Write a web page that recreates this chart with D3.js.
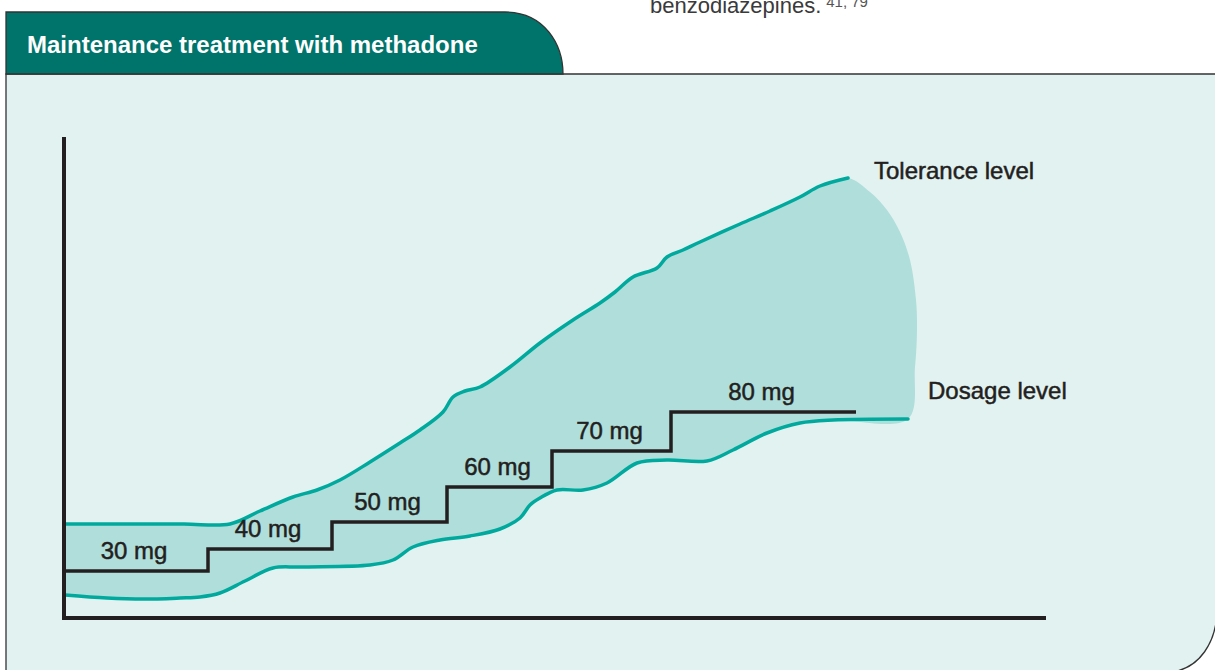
<!DOCTYPE html>
<html>
<head>
<meta charset="utf-8">
<script src="https://cdn.jsdelivr.net/npm/d3@7"></script>
<style>
  html, body { margin: 0; padding: 0; background: #fff; }
  svg { display: block; font-family: "Liberation Sans", Arial, Helvetica, sans-serif; }
</style>
</head>
<body>
<div id="draw"></div>
<script>
// values are in arbitrary chart units (time along x, level up y)
var toleranceX = [2, 60, 120, 166, 196, 229, 253, 276, 306, 336, 356, 379, 389, 401, 416, 446, 476, 509, 536, 551, 569, 593, 603, 619, 636, 676, 706, 736, 756, 784];
var toleranceY = [95, 95, 95, 95, 108, 122, 129, 139, 157, 176, 189, 207, 222, 228, 232, 252, 276, 299, 316, 327, 342, 351, 362, 369, 377, 395, 408, 422, 433, 441];

var dosageX = [1, 43, 80, 116, 136, 156, 181, 209, 236, 306, 329, 349, 376, 406, 436, 456, 466, 476, 493, 519, 543, 573, 603, 643, 669, 703, 736, 769, 844];
var dosageY = [24, 21, 20, 21, 22, 26, 38, 51, 52, 54, 59, 72, 79, 83, 90, 101, 114, 121, 129, 129, 136, 156, 159, 158, 169, 186, 196, 199, 200];

// right hand closing edge of the shaded band (tolerance end -> dosage end)
var closeX = [806, 823, 836, 846, 852, 853, 851];
var closeY = [427, 409, 387, 359, 319, 289, 252];

// prescribed dose steps
var doseMg = [30, 40, 50, 60, 70, 80];
var stepStart = [0, 144, 268, 383, 488, 607];
var stepEnd = 792;
var stepLevel = [48, 70, 97, 132, 168, 207];

var width = 1215, height = 670;
var teal = '#00a99d', band = '#b0dedb', ink = '#231f20';

var svg = d3.select('#draw').append('svg')
    .attr('width', width).attr('height', height);

var x = d3.scaleLinear().domain([0, 982]).range([64, 1046]);
var y = d3.scaleLinear().domain([0, 482]).range([619, 137]);

// running text above the box (cut by the page edge as in the source)
var bodyText = svg.append('text').attr('x', 650).attr('y', 12.5)
    .attr('fill', '#3a3a3a').style('font-size', '22px');
bodyText.append('tspan').text('benzodiazepines.');
bodyText.append('tspan').attr('dx', 5).attr('dy', -6).style('font-size', '15px').attr('fill', '#555').text('41, 79');

// panel
svg.append('path')
    .attr('d', 'M6,74 H1217 V612 C1216,642 1200,668 1172,672 H6 Z')
    .attr('fill', '#e2f2f1').attr('stroke', '#333').attr('stroke-width', 1.3);

// tab header
svg.append('path')
    .attr('d', 'M6,74 V12 H505 C545,12 563,45 563,74 Z')
    .attr('fill', '#00736a').attr('stroke', '#333').attr('stroke-width', 1.3);
svg.append('text').attr('x', 27).attr('y', 52.5)
    .attr('fill', '#fff').style('font-size', '24px').style('font-weight', 'bold')
    .text('Maintenance treatment with methadone');

var tol = toleranceX.map(function(d, i){ return [d, toleranceY[i]]; });
var dos = dosageX.map(function(d, i){ return [d, dosageY[i]]; });
var edge = closeX.map(function(d, i){ return [d, closeY[i]]; });

var line = d3.line()
    .x(function(d){ return x(d[0]); })
    .y(function(d){ return y(d[1]); })
    .curve(d3.curveCatmullRom);

// shaded band between tolerance and dosage
var ring = tol.concat(edge, dos.slice().reverse());
svg.append('path')
    .attr('d', line(ring) + 'Z')
    .attr('fill', band);

svg.append('path').attr('d', line(tol))
    .attr('fill', 'none').attr('stroke', teal).attr('stroke-width', 3.5).attr('stroke-linecap', 'round');
svg.append('path').attr('d', line(dos))
    .attr('fill', 'none').attr('stroke', teal).attr('stroke-width', 3.5).attr('stroke-linecap', 'round');

// stepped dose line
var steps = stepStart.map(function(d, i){ return [d, stepLevel[i]]; });
steps.push([stepEnd, stepLevel[stepLevel.length - 1]]);
var stepLine = d3.line()
    .x(function(d){ return x(d[0]); })
    .y(function(d){ return y(d[1]); })
    .curve(d3.curveStepAfter);
svg.append('path').attr('d', stepLine(steps))
    .attr('fill', 'none').attr('stroke', ink).attr('stroke-width', 3.5);

svg.selectAll('text.dose')
    .data(doseMg)
    .enter()
    .append('text')
    .attr('class', 'dose')
    .attr('text-anchor', 'middle')
    .attr('x', function(d, i){
        var end = i < stepStart.length - 1 ? stepStart[i + 1] : stepEnd;
        return x((stepStart[i] + end) / 2) - 2;
    })
    .attr('y', function(d, i){ return y(stepLevel[i]) - 12.5; })
    .attr('fill', ink).attr('stroke', ink).attr('stroke-width', 0.5)
    .style('font-size', '24px')
    .text(function(d){ return d + ' mg'; });

// axes
svg.append('line')
    .attr('x1', x(0)).attr('y1', y(482)).attr('x2', x(0)).attr('y2', y(0) + 1)
    .attr('stroke', ink).attr('stroke-width', 4);
svg.append('line')
    .attr('x1', x(0) - 2).attr('y1', y(0) - 1).attr('x2', x(982)).attr('y2', y(0) - 1)
    .attr('stroke', ink).attr('stroke-width', 4);

// series labels
svg.append('text').attr('x', x(tol[tol.length - 1][0]) + 26).attr('y', 179)
    .attr('fill', ink).attr('stroke', ink).attr('stroke-width', 0.5)
    .style('font-size', '24px').text('Tolerance level');
svg.append('text').attr('x', x(dos[dos.length - 1][0]) + 20).attr('y', 399)
    .attr('fill', ink).attr('stroke', ink).attr('stroke-width', 0.5)
    .style('font-size', '24px').text('Dosage level');
</script>
</body>
</html>
